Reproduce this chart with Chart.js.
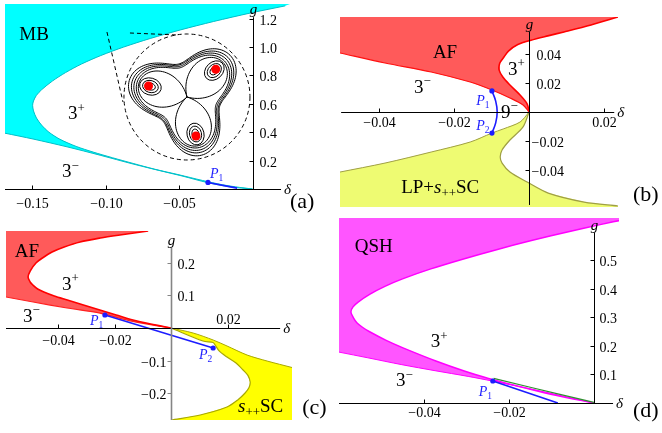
<!DOCTYPE html>
<html>
<head>
<meta charset="utf-8">
<script src="https://cdn.jsdelivr.net/npm/chart.js@4.4.1/dist/chart.umd.min.js"></script>
<style>
  body { margin: 0; background: #fff; }
  #wrap { position: relative; width: 662px; height: 433px; overflow: hidden; }
  canvas { position: absolute; }
</style>
</head>
<body>
<div id="wrap">
  <canvas id="pa" width="331" height="216" style="left:0;top:0"></canvas>
  <canvas id="pb" width="331" height="216" style="left:331px;top:0"></canvas>
  <canvas id="pc" width="331" height="217" style="left:0;top:216px"></canvas>
  <canvas id="pd" width="331" height="219" style="left:331px;top:214px"></canvas>
</div>
<script>
// ---- panel (a) : MB phase ----  points are [delta, g]
const aRangeX = [-0.1684, 0.0255];
const aRangeY = [0, 1.303];
const aMB = [
  [0.0223, 1.290], [-0.0012, 1.240], [-0.0264, 1.180], [-0.0492, 1.120], [-0.0696, 1.060],
  [-0.0876, 1.000], [-0.1032, 0.940], [-0.1164, 0.880], [-0.1272, 0.820], [-0.1362, 0.760],
  [-0.1434, 0.700], [-0.1470, 0.660], [-0.1490, 0.620], [-0.1496, 0.590], [-0.1490, 0.550],
  [-0.1470, 0.500], [-0.1435, 0.450], [-0.1385, 0.400], [-0.1310, 0.350], [-0.1200, 0.300],
  [-0.1084, 0.260], [-0.0952, 0.220], [-0.0812, 0.180], [-0.0668, 0.140], [-0.0500, 0.100],
  [-0.0340, 0.060], [-0.0205, 0.030], [-0.0115, 0.015], [0, 0]
];
const aLower = [
  [-0.1684, 0.393], [-0.1493, 0.352], [-0.1262, 0.297], [-0.1037, 0.238], [-0.0813, 0.176],
  [-0.0582, 0.117], [-0.0473, 0.090], [-0.0310, 0.046], [-0.0153, 0.015], [0, 0]
];
const aP1 = [[-0.0303, 0.046]];
const aBlue = [[-0.0303, 0.046], [-0.0105, 0.006]];
const aTicksX = [-0.15, -0.10, -0.05];
const aTickLabelsX = ["−0.15", "−0.10", "−0.05"];
const aTicksY = [0.2, 0.4, 0.6, 0.8, 1.0, 1.2];
const aTickLabelsY = ["0.2", "0.4", "0.6", "0.8", "1.0", "1.2"];

// ---- panel (b) : AF / LP+s++SC ----
const bRangeX = [-0.0504, 0.0237];
const bRangeY = [-0.0655, 0.0655];
const bRedLow = [
  [-0.0504, 0.0407], [-0.0384, 0.0338], [-0.0261, 0.0276], [-0.0157, 0.0207], [-0.0099, 0.0152],
  [-0.0051, 0.0097], [-0.0016, 0.0048], [0, 0]
];
const bRedS = [
  [0, 0], [-0.0005, 0.0055], [-0.0024, 0.0117], [-0.0051, 0.0186], [-0.0070, 0.0241],
  [-0.0080, 0.0290], [-0.0078, 0.0338], [-0.0067, 0.0379], [-0.0055, 0.0420], [-0.0030, 0.0465],
  [0.0005, 0.0495], [0.0050, 0.0525], [0.0093, 0.0552], [0.0165, 0.0600], [0.0237, 0.0655]
];
const bYelUp = [
  [-0.0504, -0.0414], [-0.0384, -0.0352], [-0.0261, -0.0276], [-0.0157, -0.0207], [-0.0099, -0.0145],
  [-0.0069, -0.0117], [-0.0024, -0.0069], [0, 0]
];
const bYelS = [
  [0, 0], [-0.0016, -0.0103], [-0.0051, -0.0193], [-0.0072, -0.0262], [-0.0077, -0.0310],
  [-0.0072, -0.0352], [-0.0051, -0.0414], [-0.0005, -0.0483], [0.0051, -0.0559], [0.0147, -0.0621],
  [0.0237, -0.0648]
];
const bArc = [[-0.0099, 0.0145], [-0.0089, 0.0075], [-0.0085, 0], [-0.0089, -0.0075], [-0.0099, -0.0145]];
const bPts = [[-0.0099, 0.0145], [-0.0099, -0.0145]];
const bTicksX = [-0.04, -0.02, 0.02];
const bTickLabelsX = ["−0.04", "−0.02", "0.02"];
const bTicksY = [0.04, 0.02, -0.02, -0.04];
const bTickLabelsY = ["0.04", "0.02", "−0.02", "−0.04"];

// ---- panel (c) : AF / s++SC ----
const cRangeX = [-0.0584, 0.0428];
const cRangeY = [-0.2813, 0.2966];
const cRedTop = [
  [-0.0081, 0.2966], [-0.0181, 0.2844], [-0.0250, 0.2752], [-0.0322, 0.2630], [-0.0378, 0.2477],
  [-0.0421, 0.2324], [-0.0455, 0.2141], [-0.0478, 0.1988], [-0.0498, 0.1750], [-0.0506, 0.1560],
  [-0.0498, 0.1400], [-0.0489, 0.1315], [-0.0472, 0.1193], [-0.0450, 0.1101], [-0.0413, 0.0979],
  [-0.0367, 0.0856], [-0.0310, 0.0703], [-0.0252, 0.0550], [-0.0194, 0.0398], [-0.0135, 0.0245],
  [-0.0072, 0.0122], [0, 0]
];
const cRedLow = [
  [-0.0584, 0.0948], [-0.0488, 0.0795], [-0.0368, 0.0612], [-0.0251, 0.0455], [-0.0135, 0.0200], [0, 0]
];
const cYelOuter = [
  [0, 0], [0.0078, -0.0153], [0.0149, -0.0367], [0.0198, -0.0550], [0.0269, -0.0826],
  [0.0340, -0.1010], [0.0428, -0.1208]
];
const cYelInner = [
  [0, 0], [0.0113, -0.0398], [0.0149, -0.0443], [0.0156, -0.0520], [0.0170, -0.0700],
  [0.0198, -0.0887], [0.0230, -0.1070], [0.0255, -0.1284], [0.0272, -0.1450], [0.0280, -0.1651],
  [0.0276, -0.1820], [0.0262, -0.1988], [0.0236, -0.2200], [0.0198, -0.2416], [0.0103, -0.2661],
  [0, -0.2813]
];
const cBlue = [[-0.0234, 0.0398], [0.0149, -0.0612]];
const cTicksX = [-0.04, -0.02, 0.02];
const cTickLabelsX = ["−0.04", "−0.02", "0.02"];
const cTicksY = [0.2, 0.1, -0.1, -0.2];
const cTickLabelsY = ["0.2", "0.1", "−0.1", "−0.2"];

// ---- panel (d) : QSH ----
const dRangeX = [-0.0600, 0.0059];
const dRangeY = [0, 0.647];
const dQSH = [
  [0.0079, 0.644], [0.0012, 0.623], [-0.0060, 0.599], [-0.0147, 0.568], [-0.0225, 0.538],
  [-0.0309, 0.503], [-0.0384, 0.469], [-0.0449, 0.435], [-0.0492, 0.408], [-0.0528, 0.380],
  [-0.0555, 0.353], [-0.0567, 0.336], [-0.0572, 0.318], [-0.0566, 0.298], [-0.0558, 0.281],
  [-0.0544, 0.264], [-0.0529, 0.250], [-0.0489, 0.219], [-0.0448, 0.192], [-0.0372, 0.147],
  [-0.0307, 0.113], [-0.0248, 0.086], [-0.0157, 0.051], [-0.0090, 0.027], [0, 0]
];
const dLower = [
  [-0.0600, 0.178], [-0.0532, 0.158], [-0.0452, 0.134], [-0.0374, 0.113], [-0.0296, 0.093],
  [-0.0240, 0.077], [-0.0139, 0.046], [0, 0]
];
const dGreen = [[-0.0236, 0.086], [-0.0150, 0.055], [-0.0080, 0.030], [0, 0.002]];
const dBlue = [[-0.0238, 0.077], [-0.0085, 0]];
const dP1 = [[-0.0238, 0.077]];
const dTicksX = [-0.04, -0.02];
const dTickLabelsX = ["−0.04", "−0.02"];
const dTicksY = [0.1, 0.2, 0.3, 0.4, 0.5];
const dTickLabelsY = ["0.1", "0.2", "0.3", "0.4", "0.5"];

const FONT = '"Liberation Serif", "DejaVu Serif", serif';
const BLUE = "#1c1cff";

const pts = (arr) => arr.map(([x, y]) => ({ x, y }));
const rev = (arr) => arr.slice().reverse();

function region(poly, color) {
  return { data: pts(poly), fill: "shape", backgroundColor: color, borderWidth: 0, pointRadius: 0, tension: 0, order: 5 };
}
function curve(line, color, width, tension = 0.3, order = 3) {
  return { data: pts(line), fill: false, borderColor: color, borderWidth: width, pointRadius: 0, tension, order };
}
function dots(list) {
  return { data: pts(list), showLine: false, pointRadius: 2.6, pointBackgroundColor: BLUE, pointBorderWidth: 0, order: 0 };
}

// text with italic / superscript / subscript parts
function rich(ctx, x, y, parts, size, align, color) {
  const segs = parts.map(([t, f = ""]) => {
    const small = f.includes("^") || f.includes("_");
    const fs = small ? size * 0.68 : size;
    const font = (f.includes("i") ? "italic " : "") + fs + "px " + FONT;
    ctx.font = font;
    const dy = f.includes("^") ? -size * 0.4 : f.includes("_") ? size * 0.22 : 0;
    return { t, font, dy, w: ctx.measureText(t).width };
  });
  const total = segs.reduce((s, g) => s + g.w, 0);
  let cx = align === "center" ? x - total / 2 : align === "right" ? x - total : x;
  ctx.fillStyle = color;
  ctx.textAlign = "left";
  ctx.textBaseline = "alphabetic";
  segs.forEach((s) => {
    ctx.font = s.font;
    ctx.fillText(s.t, cx, y + s.dy);
    cx += s.w;
  });
}

// contour sketch of the three-well landscape in panel (a)
function drawInset(ctx, cx, cy) {
  ctx.save();
  ctx.strokeStyle = "#000";
  ctx.lineWidth = 1;
  ctx.setLineDash([4, 3]);
  ctx.beginPath(); ctx.arc(cx, cy, 63, 0, 2 * Math.PI); ctx.stroke();
  ctx.beginPath(); ctx.moveTo(cx - 80, cy - 65); ctx.lineTo(cx - 64, cy + 5); ctx.stroke();
  ctx.beginPath(); ctx.moveTo(cx - 57, cy - 64); ctx.lineTo(cx - 10, cy - 62); ctx.stroke();
  ctx.setLineDash([]);
  const wells = [-44, 77, 196].map((a) => (a * Math.PI) / 180);
  [[47, 13], [45, 12], [43, 11.5], [41, 11]].forEach(([c, d]) => {
    ctx.beginPath();
    for (let i = 0; i <= 180; i++) {
      const t = (i / 180) * 2 * Math.PI;
      const r = c + d * Math.cos(3 * (t - wells[0]));
      const X = cx + r * Math.cos(t), Y = cy + r * Math.sin(t);
      i ? ctx.lineTo(X, Y) : ctx.moveTo(X, Y);
    }
    ctx.closePath(); ctx.stroke();
  });
  wells.forEach((a) => {
    ctx.beginPath();
    for (let i = 0; i <= 60; i++) {
      const t = a - Math.PI / 3 + (i / 60) * (2 * Math.PI / 3);
      const r = 50 * Math.cos(1.5 * (t - a));
      const X = cx + r * Math.cos(t), Y = cy + r * Math.sin(t);
      i ? ctx.lineTo(X, Y) : ctx.moveTo(X, Y);
    }
    ctx.stroke();
    [[5, 3.5], [8, 6], [11, 8.5]].forEach(([ra, rb]) => {
      ctx.beginPath();
      ctx.ellipse(cx + 38 * Math.cos(a), cy + 38 * Math.sin(a), ra, rb, a, 0, 2 * Math.PI);
      ctx.stroke();
    });
  });
  ctx.fillStyle = "#ff0000";
  wells.forEach((a) => {
    ctx.beginPath();
    ctx.arc(cx + 40 * Math.cos(a), cy + 40 * Math.sin(a), 4.5, 0, 2 * Math.PI);
    ctx.fill();
  });
  ctx.restore();
}

const PANELS = {
  pa: {
    axisX: [-0.1684, 0.0194], axisY: [0, 1.21],
    ticksX: aTicksX, labelsX: aTickLabelsX, ticksY: aTicksY, labelsY: aTickLabelsY,
    xLabelDy: 18, yLabelDx: 6, yLabelDxNeg: 6, inset: [-0.0446, 0.648],
    texts: [
      { at: [-0.1486, 1.048], parts: [["MB"]], align: "center" },
      { at: [-0.1255, 0.490], parts: [["3"], ["+", "^"]] },
      { at: [-0.1296, 0.083], parts: [["3"], ["−", "^"]] },
      { at: [-0.0289, 0.076], parts: [["P", "i"], ["1", "_"]], size: 14, color: BLUE },
      { at: [0.0255, -0.131], parts: [["(a)"]], size: 22 }
    ]
  },
  pb: {
    axisX: [-0.0501, 0.0227], axisY: [-0.0641, 0.0552],
    ticksX: bTicksX, labelsX: bTickLabelsX, ticksY: bTicksY, labelsY: bTickLabelsY,
    xLabelDy: 14, yLabelDx: 7, yLabelDxNeg: 2,
    texts: [
      { at: [-0.0224, 0.0372], parts: [["AF"]], align: "center" },
      { at: [-0.0056, 0.0255], parts: [["3"], ["+", "^"]] },
      { at: [-0.0307, 0.0131], parts: [["3"], ["−", "^"]] },
      { at: [-0.0075, -0.0041], parts: [["9"], ["−", "^"]] },
      { at: [-0.0141, 0.0048], parts: [["P", "i"], ["1", "_"]], size: 14, color: BLUE },
      { at: [-0.0141, -0.0124], parts: [["P", "i"], ["2", "_"]], size: 14, color: BLUE },
      { at: [-0.0237, -0.0559], parts: [["LP+"], ["s", "i"], ["++", "_"], ["SC"]], align: "center" },
      { at: [0.0277, -0.0614], parts: [["(b)"]], size: 22 }
    ]
  },
  pc: {
    axisX: [-0.0584, 0.0386], axisY: [-0.2813, 0.2446],
    ticksX: cTicksX, labelsX: cTickLabelsX, ticksY: cTicksY, labelsY: cTickLabelsY,
    xLabelDy: 16, posXAbove: true, yLabelDx: 6, negYLeft: true,
    yAxisColor: "#858585", yAxisWidth: 1.6,
    texts: [
      { at: [-0.0510, 0.217], parts: [["AF"]], align: "center" },
      { at: [-0.0386, 0.1162], parts: [["3"], ["+", "^"]] },
      { at: [-0.0524, 0.0183], parts: [["3"], ["−", "^"]] },
      { at: [-0.0287, 0.0092], parts: [["P", "i"], ["1", "_"]], size: 14, color: BLUE },
      { at: [0.0099, -0.0948], parts: [["P", "i"], ["2", "_"]], size: 14, color: BLUE },
      { at: [0.0237, -0.2569], parts: [["s", "i"], ["++", "_"], ["SC"]] },
      { at: [0.0464, -0.263], parts: [["(c)"]], size: 22 }
    ]
  },
  pd: {
    axisX: [-0.0600, 0.0045], axisY: [0, 0.596],
    ticksX: dTicksX, labelsX: dTickLabelsX, ticksY: dTicksY, labelsY: dTickLabelsY,
    xLabelDy: 13, yLabelDx: 5, yLabelDxNeg: 5,
    texts: [
      { at: [-0.0518, 0.527], parts: [["QSH"]], align: "center" },
      { at: [-0.0384, 0.195], parts: [["3"], ["+", "^"]] },
      { at: [-0.0466, 0.058], parts: [["3"], ["−", "^"]] },
      { at: [-0.0271, 0.024], parts: [["P", "i"], ["1", "_"]], size: 14, color: BLUE },
      { at: [0.0092, -0.048], parts: [["(d)"]], size: 22 }
    ]
  }
};

const panelPlugin = {
  id: "panel",
  afterDatasetsDraw(chart) {
    const p = PANELS[chart.canvas.id];
    const { ctx } = chart;
    const px = (v) => chart.scales.x.getPixelForValue(v);
    const py = (v) => chart.scales.y.getPixelForValue(v);
    const ox = Math.round(px(0)) + 0.5;
    const oy = Math.min(Math.round(py(0)) + 0.5, chart.chartArea.bottom + 0.5);
    ctx.save();
    if (p.inset) drawInset(ctx, px(p.inset[0]), py(p.inset[1]));

    // axes
    ctx.lineWidth = 1;
    ctx.strokeStyle = "#000";
    ctx.beginPath(); ctx.moveTo(px(p.axisX[0]), oy); ctx.lineTo(px(p.axisX[1]), oy); ctx.stroke();
    ctx.lineWidth = p.yAxisWidth || 1;
    ctx.strokeStyle = p.yAxisColor || "#000";
    ctx.beginPath(); ctx.moveTo(ox, py(p.axisY[0])); ctx.lineTo(ox, py(p.axisY[1])); ctx.stroke();

    // ticks and tick labels
    ctx.lineWidth = 1;
    p.ticksX.forEach((v, i) => {
      const x = Math.round(px(v)) + 0.5;
      ctx.strokeStyle = "#000";
      ctx.beginPath(); ctx.moveTo(x, oy); ctx.lineTo(x, oy - 4); ctx.stroke();
      const above = p.posXAbove && v > 0;
      rich(ctx, x, above ? oy - 5 : oy + p.xLabelDy, [[p.labelsX[i]]], 14, "center", "#000");
    });
    p.ticksY.forEach((v, i) => {
      const y = Math.round(py(v)) + 0.5;
      ctx.strokeStyle = p.yAxisColor || "#000";
      ctx.beginPath(); ctx.moveTo(ox, y); ctx.lineTo(ox - 4, y); ctx.stroke();
      if (p.negYLeft && v < 0) {
        rich(ctx, ox - 5, y + 5, [[p.labelsY[i]]], 14, "right", "#000");
      } else {
        rich(ctx, ox + (v < 0 ? p.yLabelDxNeg : p.yLabelDx), y + 5, [[p.labelsY[i]]], 14, "left", "#000");
      }
    });

    // axis names
    rich(ctx, px(p.axisX[1]) + 3, oy + 4, [["δ", "i"]], 15, "left", "#000");
    rich(ctx, ox, py(p.axisY[1]) - 3, [["g", "i"]], 15, "center", "#000");

    p.texts.forEach((t) =>
      rich(ctx, px(t.at[0]), py(t.at[1]), t.parts, t.size || 19, t.align || "left", t.color || "#000")
    );
    ctx.restore();
  }
};

function makeChart(id, rx, ry, padding, datasets) {
  return new Chart(document.getElementById(id), {
    type: "line",
    data: { datasets },
    options: {
      responsive: false,
      animation: false,
      events: [],
      layout: { padding },
      scales: {
        x: { type: "linear", min: rx[0], max: rx[1], display: false },
        y: { type: "linear", min: ry[0], max: ry[1], display: false }
      },
      plugins: { legend: { display: false }, tooltip: { enabled: false } }
    },
    plugins: [panelPlugin]
  });
}

// (a)
makeChart("pa", aRangeX, aRangeY, { left: 5, right: 41, top: 0, bottom: 27 }, [
  region([[aRangeX[0], aRangeY[1]], ...aLower, ...rev(aMB), [aRangeX[1], aRangeY[1]]], "#00ffff"),
  curve(aMB, "#00bfc8", 1),
  curve(aLower, "#00bfc8", 1),
  curve(aBlue, BLUE, 1.6, 0, 2),
  dots(aP1)
]);

// (b)
makeChart("pb", bRangeX, bRangeY, { left: 9, right: 44, top: 17, bottom: 9 }, [
  region([[bRangeX[0], bRangeY[1]], ...bRedLow, ...bRedS, [bRangeX[1], bRangeY[1]]], "#ff5a5a"),
  region([[bRangeX[0], bRangeY[0]], ...bYelUp, ...bYelS, [bRangeX[1], bRangeY[0]]], "#eefb72"),
  curve(bRedLow, "#ff1010", 1.2),
  curve(bRedS, "#ff0000", 1.6),
  curve(bYelUp, "#9f9f45", 1),
  curve(bYelS, "#9f9f45", 1.2),
  curve(bArc, BLUE, 1.6, 0.4, 2),
  dots(bPts)
]);

// (c)
makeChart("pc", cRangeX, cRangeY, { left: 6, right: 39, top: 15, bottom: 13 }, [
  region([[cRangeX[0], cRangeY[1]], ...cRedTop, ...rev(cRedLow)], "#ff5a5a"),
  region([...cYelOuter, [cRangeX[1], cRangeY[0]], ...rev(cYelInner)], "#ffff00"),
  curve(cRedTop, "#ff0000", 1.6),
  curve(cRedLow, "#ff2020", 1.2),
  curve(cYelOuter, "#a8a800", 1),
  curve(cYelInner, "#a8a800", 1.2),
  curve(cBlue, BLUE, 1.6, 0, 2),
  dots(cBlue)
]);

// (d)
makeChart("pd", dRangeX, dRangeY, { left: 8, right: 43, top: 0, bottom: 30 }, [
  region([[dRangeX[0], dRangeY[1]], [dRangeX[1], dRangeY[1]], ...dQSH, ...rev(dLower)], "#ff55ff"),
  curve(dQSH, "#ff00ff", 1.5),
  curve(dLower, "#ff00ff", 1),
  curve(dGreen, "#2f8f2f", 1.2, 0, 2),
  curve(dBlue, BLUE, 1.6, 0, 2),
  dots(dP1)
]);
</script>
</body>
</html>
